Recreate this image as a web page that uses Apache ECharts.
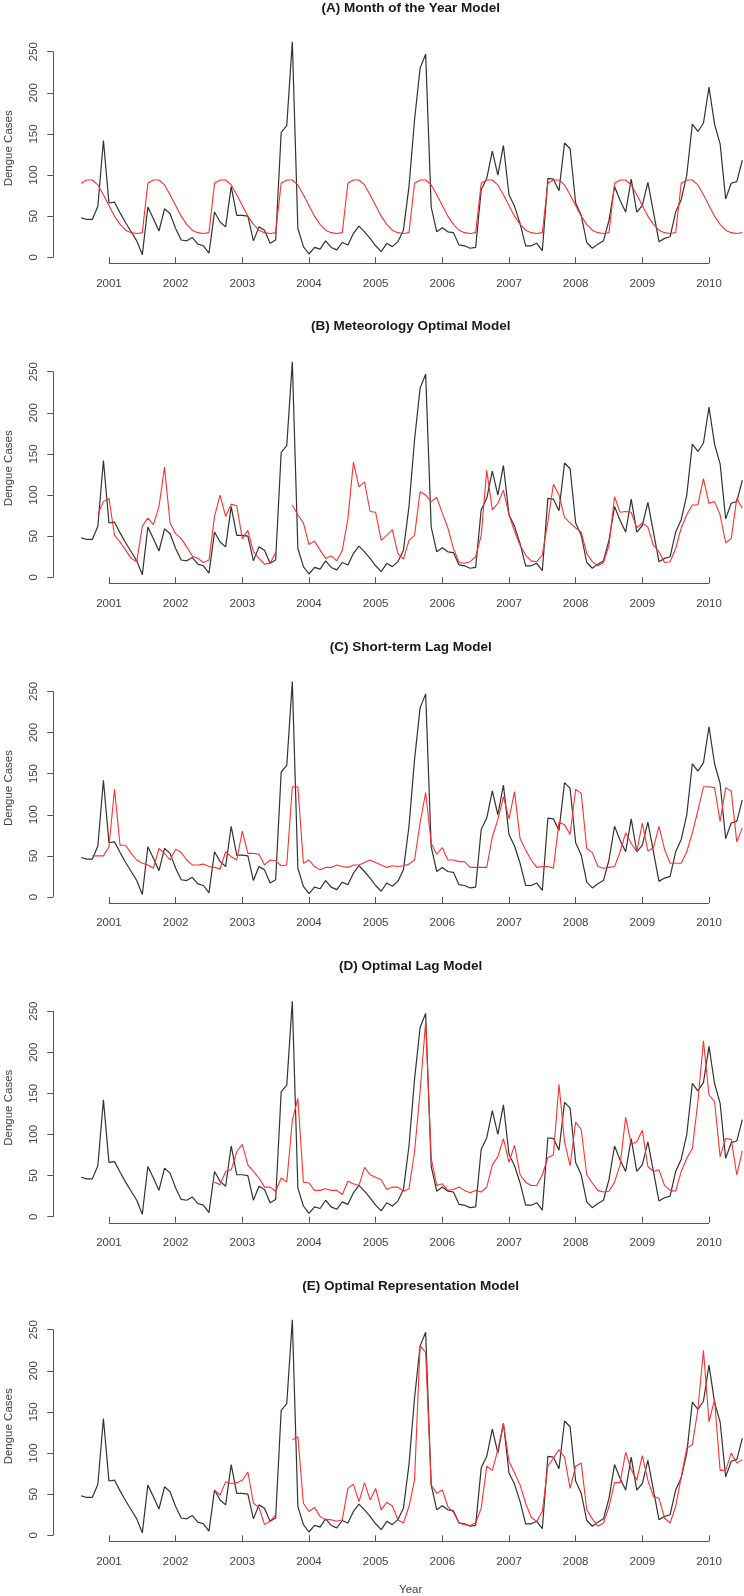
<!DOCTYPE html>
<html>
<head>
<meta charset="utf-8">
<script src="https://cdn.jsdelivr.net/npm/echarts@6/dist/echarts.min.js"></script>
<style>
html,body{margin:0;padding:0;background:#fff;}
#chart{width:744px;height:1596px;}
</style>
</head>
<body>
<div id="chart"></div>
<script>
// ---------------- DATA ----------------
// Monthly series, first month = Aug 2000, last = Jul 2010
const startYear = 2000;
const startMonth = 8;
const yearTicks = [2001, 2002, 2003, 2004, 2005, 2006, 2007, 2008, 2009, 2010];
const yTicks = [0, 50, 100, 150, 200, 250];

const panelTitles = [
  '(A) Month of the Year Model',
  '(B) Meteorology Optimal Model',
  '(C) Short-term Lag Model',
  '(D) Optimal Lag Model',
  '(E) Optimal Representation Model'
];

const observed = [
  48, 46, 46, 62, 142,
  66, 67, 54, 42, 31, 20, 3, 61, 47, 32, 59, 53,
  35, 21, 20, 24, 16, 14, 5, 55, 43, 37, 86, 51,
  51, 50, 20, 37, 33, 17, 21, 152, 160, 262, 35, 13,
  4, 12, 10, 20, 12, 9, 18, 15, 29, 38, 31, 23,
  14, 7, 17, 13, 19, 33, 86, 167, 230, 247, 61, 31,
  36, 31, 30, 15, 14, 11, 12, 82, 96, 129, 100, 136,
  76, 62, 41, 14, 14, 17, 8, 96, 95, 81, 139, 132,
  66, 51, 18, 11, 16, 20, 45, 86, 69, 55, 95, 55,
  63, 91, 55, 19, 23, 25, 55, 70, 100, 162, 153, 163,
  207, 162, 138, 71, 90, 92, 118
];

const modelA = [
  90, 94, 94, 88, 76,
  63, 50, 40, 33, 30, 29, 30, 90, 94, 94, 88, 76,
  63, 50, 40, 33, 30, 29, 30, 90, 94, 94, 88, 76,
  63, 50, 40, 33, 30, 29, 30, 90, 94, 94, 88, 76,
  63, 50, 40, 33, 30, 29, 30, 90, 94, 94, 88, 76,
  63, 50, 40, 33, 30, 29, 30, 90, 94, 94, 88, 76,
  63, 50, 40, 33, 30, 29, 30, 90, 94, 94, 88, 76,
  63, 50, 40, 33, 30, 29, 30, 90, 94, 94, 88, 76,
  63, 50, 40, 33, 30, 29, 30, 90, 94, 94, 88, 76,
  63, 50, 40, 33, 30, 29, 30, 90, 94, 94, 88, 76,
  63, 50, 40, 33, 30, 29, 30
];

const modelB = [
  null, null, null, 77, 92,
  96, 51, 43, 33, 23, 19, 62, 72, 64, 86, 134, 66,
  53, 47, 37, 26, 23, 18, 21, 74, 100, 74, 89, 87,
  47, 57, 31, 23, 16, 17, 30, null, null, 88, 76, 66,
  40, 44, 33, 23, 26, 20, 33, 71, 140, 110, 116, 80,
  79, 45, 51, 58, 29, 22, 45, 51, 104, 100, 92, 97,
  78, 60, 35, 18, 17, 19, 25, 51, 130, 82, 90, 106,
  76, 56, 39, 27, 20, 19, 27, 68, 113, 100, 73, 66,
  60, 55, 29, 19, 14, 18, 39, 98, 79, 80, 79, 60,
  66, 61, 39, 31, 18, 19, 35, 60, 76, 88, 88, 120,
  90, 92, 76, 42, 47, 96, 84
];

const modelC = [
  null, null, 50, 50, 50,
  61, 131, 63, 63, 53, 45, 41, 39, 35, 59, 53, 45,
  58, 54, 45, 39, 39, 40, 37, 36, 34, 55, 49, 45,
  80, 53, 53, 52, 39, 45, 44, 38, 39, 134, 134, 41,
  45, 37, 33, 36, 36, 39, 37, 36, 39, 39, 42, 45,
  42, 39, 36, 38, 37, 38, 40, 45, 90, 127, 65, 52,
  60, 45, 45, 43, 43, 36, 36, 36, 36, 73, 94, 122,
  95, 128, 71, 57, 45, 36, 37, 37, 35, 91, 88, 76,
  131, 126, 59, 54, 37, 35, 36, 37, 55, 78, 65, 55,
  90, 56, 60, 86, 58, 41, 41, 41, 55, 78, 105, 134,
  134, 133, 92, 133, 129, 67, 84
];

const modelD = [
  null, null, null, null, null,
  null, null, null, null, null, null, null, null, null, null, null, null,
  null, null, null, null, null, null, null, 42, 39, 55, 57, 79,
  88, 63, 55, 47, 36, 36, 31, 47, 42, 117, 144, 42,
  41, 32, 32, 34, 32, 32, 27, 43, 40, 38, 60, 51,
  48, 45, 33, 36, 36, 31, 34, 79, 152, 237, 71, 38,
  40, 32, 33, 36, 32, 29, 32, 30, 36, 63, 73, 95,
  66, 87, 51, 42, 38, 38, 51, 72, 75, 161, 91, 62,
  115, 106, 51, 41, 32, 30, 31, 42, 63, 121, 88, 91,
  105, 61, 55, 57, 38, 32, 31, 55, 71, 83, 140, 214,
  148, 140, 73, 95, 94, 51, 80
];

const modelE = [
  null, null, null, null, null,
  null, null, null, null, null, null, null, null, null, null, null, null,
  null, null, null, null, null, null, null, 55, 49, 65, 63, 64,
  67, 77, 39, 34, 13, 17, 25, null, null, 116, 120, 39,
  29, 34, 23, 19, 19, 17, 19, 57, 62, 41, 64, 43,
  57, 31, 40, 36, 19, 15, 35, 67, 231, 222, 61, 51,
  55, 35, 28, 15, 13, 12, 15, 33, 84, 79, 104, 136,
  90, 76, 61, 39, 22, 17, 29, 84, 94, 104, 95, 57,
  84, 88, 31, 20, 11, 15, 35, 64, 64, 101, 80, 67,
  97, 67, 47, 45, 21, 15, 35, 71, 106, 110, 153, 225,
  138, 165, 79, 79, 100, 88, 92
];

const models = [modelA, modelB, modelC, modelD, modelE];

// ---------------- LAYOUT ----------------
const XMIN = 2000.165, XMAX = 2010.525;
const YMIN = -7.4, YMAX = 272.4;
const zeroY = [257.3, 577.3, 897, 1216.7, 1535.3];
const pxPerUnit = 0.8224;
const titleCY = [8.3, 326.7, 647.3, 966.7, 1286];
const centerX = 410.7;
const FONT = '"Liberation Sans", Arial, sans-serif';
const GRAY = '#444';

const decYear = i => startYear + (startMonth - 1 + i) / 12;
const toPairs = arr => arr.map((v, i) => [decYear(i), v]);

const grids = [], xAxes = [], yAxes = [], series = [], titles = [];

for (let p = 0; p < 5; p++) {
  const top = zeroY[p] - YMAX * pxPerUnit;
  const height = (YMAX - YMIN) * pxPerUnit;
  grids.push({ left: 53.3, width: 690.7, top: top, height: height,
    containLabel: false, outerBoundsMode: 'none' });
  xAxes.push({
    type: 'value', gridIndex: p, min: XMIN, max: XMAX,
    axisLine: { show: false },
    splitLine: { show: false },
    axisTick: { show: true, customValues: yearTicks, length: 6, inside: false,
      lineStyle: { color: '#555', width: 1 } },
    axisLabel: { show: true, customValues: yearTicks, margin: 14,
      formatter: v => String(v), color: GRAY, fontSize: 11.5, fontFamily: FONT }
  });
  yAxes.push({
    type: 'value', gridIndex: p, min: YMIN, max: YMAX,
    axisLine: { show: false },
    splitLine: { show: false },
    axisTick: { show: true, customValues: yTicks, length: 6, inside: false,
      lineStyle: { color: '#555', width: 1 } },
    axisLabel: { show: true, customValues: yTicks, rotate: 90, margin: 13,
      color: GRAY, fontSize: 11.5, fontFamily: FONT },
    name: 'Dengue Cases', nameLocation: 'middle', nameGap: 38,
    nameTextStyle: { color: GRAY, fontSize: 11.5, fontFamily: FONT }
  });
  series.push({
    type: 'line', xAxisIndex: p, yAxisIndex: p,
    data: toPairs(observed),
    showSymbol: false, symbol: 'none', clip: false,
    lineStyle: { color: '#333', width: 1.2 },
    silent: true, animation: false,
    markLine: {
      silent: true, symbol: ['none', 'none'], animation: false,
      label: { show: false },
      lineStyle: { color: '#555', width: 1, type: 'solid' },
      emphasis: { disabled: true },
      data: [
        [{ coord: [yearTicks[0], YMIN] }, { coord: [yearTicks[yearTicks.length - 1], YMIN] }],
        [{ coord: [XMIN, yTicks[0]] }, { coord: [XMIN, yTicks[yTicks.length - 1]] }]
      ]
    }
  });
  series.push({
    type: 'line', xAxisIndex: p, yAxisIndex: p,
    data: toPairs(models[p]),
    showSymbol: false, symbol: 'none', connectNulls: false,
    lineStyle: { color: '#ff3030', width: 1.1 },
    silent: true, animation: false
  });
  titles.push({
    text: panelTitles[p], left: centerX, textAlign: 'center',
    top: titleCY[p] - 7, padding: 0,
    textStyle: { fontSize: 13.5, fontWeight: 'bold', color: '#1a1a1a', fontFamily: FONT }
  });
}
titles.push({
  text: 'Year', left: centerX, textAlign: 'center', top: 1584, padding: 0,
  textStyle: { fontSize: 11.5, fontWeight: 'normal', color: GRAY, fontFamily: FONT }
});

const chart = echarts.init(document.getElementById('chart'), null, { renderer: 'canvas' });
chart.setOption({
  backgroundColor: '#ffffff',
  animation: false,
  title: titles,
  grid: grids,
  xAxis: xAxes,
  yAxis: yAxes,
  series: series
});
</script>
</body>
</html>
